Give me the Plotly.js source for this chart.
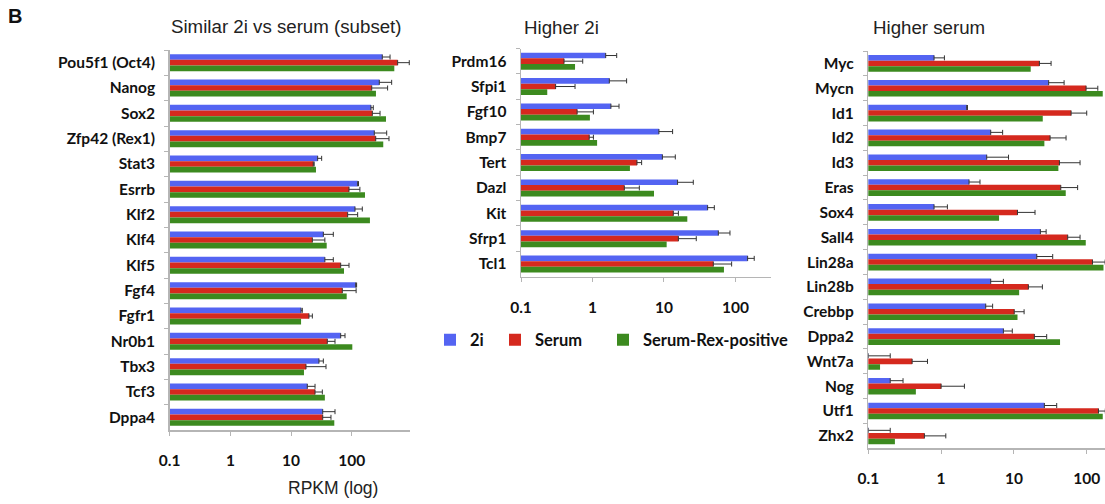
<!DOCTYPE html>
<html>
<head>
<meta charset="utf-8">
<script src="https://cdn.plot.ly/plotly-3.0.1.min.js"></script>
<style>html,body{margin:0;padding:0;background:#fff;}#chart{width:1105px;height:504px;}</style>
</head>
<body>
<div id="chart"></div>
<script>
// ---------- DATA ----------
const seriesNames = ["2i", "Serum", "Serum-Rex-positive"];

// Panel 1: Similar 2i vs serum (subset)
const genesSimilar = ["Pou5f1 (Oct4)", "Nanog", "Sox2", "Zfp42 (Rex1)", "Stat3", "Esrrb", "Klf2", "Klf4", "Klf5", "Fgf4", "Fgfr1", "Nr0b1", "Tbx3", "Tcf3", "Dppa4"];
const similar2i      = [318, 284, 207, 235, 27.4, 125, 113, 34, 36, 116, 14.6, 65.6, 28.8, 18.5, 33.2];
const similar2iErr   = [109, 170, 19, 141, 4.5, 4, 36, 15.6, 13.6, 4, 0.7, 11.7, 5.2, 6.3, 19.7];
const similarSer     = [570, 213, 218, 248, 23.2, 90, 85.5, 22.4, 65.6, 69.8, 19.7, 39.5, 17.6, 24.8, 33.2];
const similarSerErr  = [315, 176, 74, 162, 0.8, 46, 39.5, 13.6, 24.4, 48, 2.7, 13.4, 20, 7.9, 12.2];
const similarRex     = [502, 250, 366, 330, 25.7, 165, 199, 38.6, 74.4, 82.4, 14.6, 102, 16.3, 36, 51.5];

// Panel 2: Higher 2i
const genesHigher2i = ["Prdm16", "Sfpi1", "Fgf10", "Bmp7", "Tert", "Dazl", "Kit", "Sfrp1", "Tcl1"];
const h2i2i      = [1.53, 1.72, 1.81, 8.5, 9.5, 15.5, 40.8, 57.6, 148];
const h2i2iErr   = [0.65, 1.28, 0.54, 4.7, 4.9, 10.2, 9.8, 26.2, 35];
const h2iSer     = [0.40, 0.305, 0.61, 0.90, 4.19, 2.79, 13.5, 15.9, 49];
const h2iSerErr  = [0.33, 0.265, 0.42, 0.13, 0.68, 1.73, 2.4, 12.4, 39.4];
const h2iRex     = [0.57, 0.233, 0.92, 1.16, 3.34, 7.25, 21.2, 10.9, 69];

// Panel 3: Higher serum
const genesHigherSer = ["Myc", "Mycn", "Id1", "Id2", "Id3", "Eras", "Sox4", "Sall4", "Lin28a", "Lin28b", "Crebbp", "Dppa2", "Wnt7a", "Nog", "Utf1", "Zhx2"];
const hs2i      = [0.80, 30, 2.25, 4.8, 4.23, 2.42, 0.80, 23.1, 20.6, 4.8, 4.1, 7.17, 0.1, 0.2, 26.2, 0.1];
const hs2iErr   = [0.31, 18.9, 0.05, 2.2, 4.2, 1.0, 0.42, 4.6, 13.5, 2.37, 1.0, 2.33, 0.1, 0.1, 12.5, 0.1];
const hsSer     = [22.4, 98, 61, 31.4, 42.2, 44, 11.2, 54.8, 120, 15.8, 10.1, 19.1, 0.40, 1.0, 145, 0.59];
const hsSerErr  = [10, 44, 39, 20.6, 38.8, 31, 8.3, 26.2, 59, 8.8, 3.7, 9.1, 0.25, 1.09, 35, 0.57];
const hsRex     = [17.0, 166, 24.9, 26.2, 40.8, 51.5, 6.25, 97, 170, 11.8, 11.2, 43, 0.145, 0.45, 166, 0.232];

const xTickVals = [0.1, 1, 10, 100];
const xTickText = ["0.1", "1", "10", "100"];

// ---------- STYLE ----------
const colors = ["#5464f2", "#d5291e", "#3c8a1f"];
const legendIds = ["legend", "legend2", "legend3"];
const W = 1105, H = 504;
const px = v => v / W;
const py = v => 1 - v / H;
const lblFont = {family: "Lato, 'Open Sans', sans-serif", size: 15.5, color: "#111", weight: 700};
const axisColor = "#b5b5b5";

function errObj(arr) {
  return {type: "data", symmetric: false, array: arr, arrayminus: arr.map(() => 0),
          color: "#333", thickness: 1, width: 2.5, visible: true};
}

function panelTraces(cats, vals, errs, xa, ya, showLegend) {
  return vals.map((v, i) => {
    const t = {
      type: "bar", orientation: "h", name: seriesNames[i],
      y: cats, x: v, xaxis: xa, yaxis: ya,
      marker: {color: colors[i]},
      showlegend: showLegend, legend: legendIds[i],
      hoverinfo: "x+y+name"
    };
    if (errs[i]) t.error_x = errObj(errs[i]);
    return t;
  });
}

const traces = [].concat(
  panelTraces(genesSimilar, [similar2i, similarSer, similarRex], [similar2iErr, similarSerErr, null], "x", "y", false),
  panelTraces(genesHigher2i, [h2i2i, h2iSer, h2iRex], [h2i2iErr, h2iSerErr, null], "x2", "y2", true),
  panelTraces(genesHigherSer, [hs2i, hsSer, hsRex], [hs2iErr, hsSerErr, null], "x3", "y3", false)
);

function xAxis(x0, x1, r1, anchor) {
  return {
    type: "log", domain: [px(x0), px(x1)], range: [-1, r1], anchor: anchor,
    tickmode: "array", tickvals: xTickVals, ticktext: xTickText,
    ticks: "outside", ticklen: 4, tickcolor: axisColor, tickwidth: 1,
    showline: true, linecolor: axisColor, linewidth: 1.5,
    showgrid: false, zeroline: false, tickfont: lblFont,
    ticklabelstandoff: 12, fixedrange: true
  };
}
function yAxis(y0, y1, anchor) {
  return {
    type: "category", domain: [py(y1), py(y0)], anchor: anchor,
    autorange: "reversed", tickson: "boundaries",
    ticks: "outside", ticklen: 4, tickcolor: axisColor, tickwidth: 1,
    showline: true, linecolor: axisColor, linewidth: 1.5,
    showgrid: false, zeroline: false, tickfont: lblFont,
    ticklabelstandoff: 10, fixedrange: true
  };
}

function legendAt(xpx) {
  return {
    orientation: "h", x: px(xpx), y: py(340), xanchor: "left", yanchor: "middle",
    font: {family: "Lato, 'Open Sans', sans-serif", size: 16.5, color: "#111", weight: 700},
    itemclick: false, itemdoubleclick: false, itemwidth: 30,
    bgcolor: "rgba(0,0,0,0)", borderwidth: 0
  };
}

const titleFont = {family: "Liberation Sans, Arial, sans-serif", size: 18.7, color: "#222"};
function ann(text, x, y, font) {
  return {text: text, x: px(x), y: py(y), xref: "paper", yref: "paper", showarrow: false,
          xanchor: "center", yanchor: "middle", font: font};
}

const layout = {
  width: W, height: H,
  margin: {l: 0, r: 0, t: 0, b: 0, autoexpand: false},
  paper_bgcolor: "#fff", plot_bgcolor: "#fff",
  barmode: "group", bargap: 0.33, bargroupgap: 0,
  xaxis: xAxis(169.7, 410, 2.959, "y"),
  yaxis: yAxis(50, 430, "x"),
  xaxis2: xAxis(521, 771, 2.497, "y2"),
  yaxis2: yAxis(48.5, 276.7, "x2"),
  xaxis3: xAxis(868.3, 1105, 2.251, "y3"),
  yaxis3: yAxis(51, 448.3, "x3"),
  showlegend: true,
  legend: legendAt(430),
  legend2: legendAt(495),
  legend3: legendAt(603),
  annotations: [
    ann("B", 15, 16, {family: "Liberation Sans, Arial, sans-serif", size: 20, color: "#111", weight: 700}),
    ann("Similar 2i vs serum (subset)", 286, 26, titleFont),
    ann("Higher 2i", 561, 27, titleFont),
    ann("Higher serum", 929, 27, titleFont),
    ann("RPKM (log)", 333, 488, {family: "Liberation Sans, Arial, sans-serif", size: 17.5, color: "#222"})
  ]
};

Plotly.newPlot("chart", traces, layout, {displayModeBar: false, staticPlot: true});
</script>
</body>
</html>
